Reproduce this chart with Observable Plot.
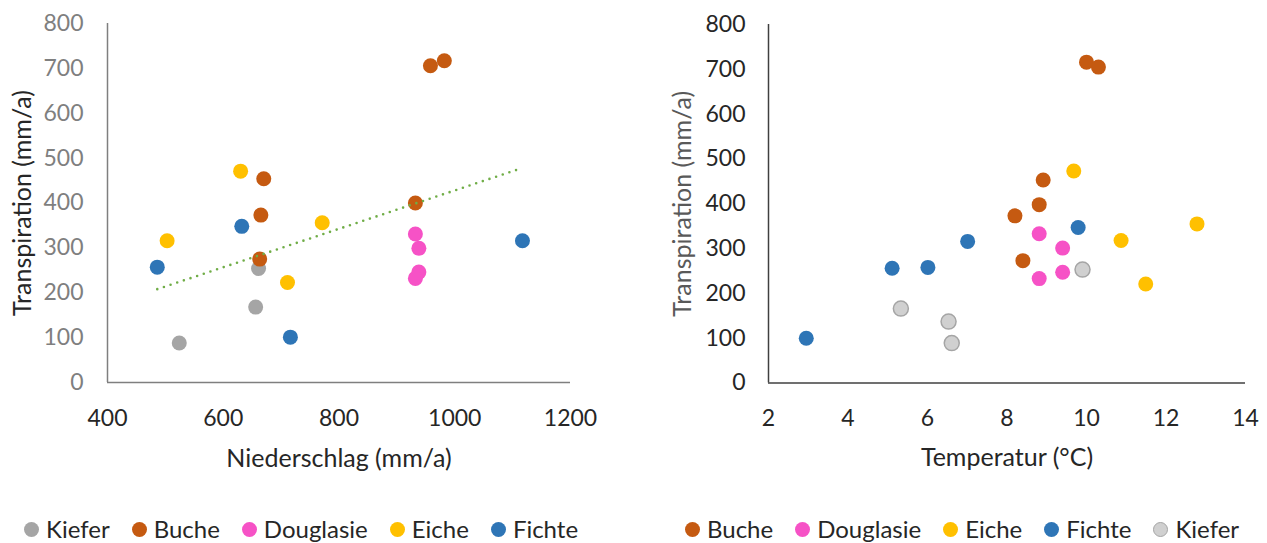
<!DOCTYPE html>
<html><head><meta charset="utf-8">
<script src="https://cdn.jsdelivr.net/npm/d3@7"></script>
<script src="https://cdn.jsdelivr.net/npm/@observablehq/plot@0.6"></script>
<style>
html,body{margin:0;padding:0;background:#fff}
body{width:1267px;height:543px;overflow:hidden;position:relative;font-family:Lato,sans-serif}
#left{position:absolute;left:0;top:0}
#right{position:absolute;left:633px;top:0}
.legend{position:absolute;top:515px;height:28px;line-height:28px;display:flex;align-items:center;font-size:24px;color:#262626;white-space:nowrap}
.item{display:flex;align-items:center;margin-right:22px}
.sw{width:15px;height:15px;border-radius:50%;margin-right:7px;box-sizing:border-box;flex:none}
</style></head>
<body>
<div id="left"></div><div id="right"></div>
<div class="legend" id="legL" style="left:24px"></div>
<div class="legend" id="legR" style="left:685px"></div>
<script>
// ---- shared ----
const yTicks = [0, 100, 200, 300, 400, 500, 600, 700, 800];
const leftXTicks = [400, 600, 800, 1000, 1200];
const rightXTicks = [2, 4, 6, 8, 10, 12, 14];
const speciesNames = ["Buche", "Douglasie", "Eiche", "Fichte", "Kiefer"];
const speciesColors = ["#C55A11", "#F652C6", "#FFC000", "#2E75B6", "#A5A5A5"];
const rightKieferFill = "#D0D0D0";
const leftLegendOrder = ["Kiefer", "Buche", "Douglasie", "Eiche", "Fichte"];
const rightLegendOrder = ["Buche", "Douglasie", "Eiche", "Fichte", "Kiefer"];

// ---- left chart: Niederschlag vs Transpiration ----
const leftSpecies = [
  "Kiefer","Kiefer","Kiefer",
  "Buche","Buche","Buche","Buche","Buche","Buche",
  "Douglasie","Douglasie","Douglasie","Douglasie",
  "Eiche","Eiche","Eiche","Eiche",
  "Fichte","Fichte","Fichte","Fichte"
];
const leftNiederschlag = [
  661, 656, 524,
  958, 982, 670, 665, 663, 932,
  932, 938, 938, 932,
  630, 771, 503, 711,
  632, 486, 716, 1117
];
const leftTranspiration = [
  254, 168, 88,
  706, 717, 454, 373, 275, 400,
  331, 299, 246, 232,
  471, 356, 316, 223,
  348, 257, 101, 316
];

// ---- right chart: Temperatur vs Transpiration ----
const rightSpecies = [
  "Buche","Buche","Buche","Buche","Buche","Buche",
  "Douglasie","Douglasie","Douglasie","Douglasie",
  "Eiche","Eiche","Eiche","Eiche",
  "Fichte","Fichte","Fichte","Fichte","Fichte",
  "Kiefer","Kiefer","Kiefer","Kiefer"
];
const rightTemperatur = [
  10.0, 10.3, 8.91, 8.81, 8.2, 8.4,
  8.81, 9.4, 9.4, 8.81,
  9.68, 12.78, 10.87, 11.49,
  9.79, 7.01, 5.11, 6.01, 2.95,
  9.9, 5.33, 6.53, 6.61
];
const rightTranspiration = [
  716, 705, 453, 398, 373, 273,
  333, 301, 247, 233,
  473, 355, 318, 221,
  347, 316, 256, 258, 100,
  253, 166, 137, 89
];

const leftData = leftSpecies.map((s, i) => ({species: s, x: leftNiederschlag[i], y: leftTranspiration[i]}));
const rightData = rightSpecies.map((s, i) => ({species: s, x: rightTemperatur[i], y: rightTranspiration[i]}));

const orderBy = (order) => (a, b) => order.indexOf(a.species) - order.indexOf(b.species);
leftData.sort(orderBy(leftLegendOrder));
rightData.sort(orderBy(rightLegendOrder));

// linear trendline through origin (computed from the data)
const slope = d3.sum(leftData, d => d.x * d.y) / d3.sum(leftData, d => d.x * d.x);
const trend = d3.extent(leftData, d => d.x).map(x => ({x, y: slope * x}));

const fmt = d3.format("d");

const leftPlot = Plot.plot({
  width: 633, height: 470,
  marginLeft: 107, marginRight: 63, marginTop: 23, marginBottom: 88,
  style: {fontFamily: "Lato, sans-serif", background: "white", overflow: "visible"},
  x: {domain: [400, 1200]},
  y: {domain: [0, 800]},
  color: {domain: speciesNames, range: speciesColors},
  marks: [
    Plot.axisY({ticks: yTicks, tickFormat: fmt, tickSize: 0, tickPadding: 24, fontSize: 23, fill: "#7F7F7F", label: null}),
    Plot.axisX({ticks: leftXTicks, tickFormat: fmt, tickSize: 0, tickPadding: 27, fontSize: 23, fill: "#262626", label: null}),
    Plot.ruleX([400], {stroke: "#7F7F7F", strokeWidth: 1.5}),
    Plot.ruleY([0], {stroke: "#7F7F7F", strokeWidth: 1.5}),
    Plot.text(["Transpiration (mm/a)"], {frameAnchor: "left", textAnchor: "middle", lineAnchor: "middle", dx: -85, rotate: -90, fontSize: 25, fill: "#262626"}),
    Plot.text(["Niederschlag (mm/a)"], {frameAnchor: "bottom", textAnchor: "middle", lineAnchor: "middle", dy: 76, fontSize: 25, fill: "#262626"}),
    Plot.dot(leftData, {x: "x", y: "y", fill: "species", r: 7.5}),
    Plot.line(trend, {x: "x", y: "y", stroke: "#70AD47", strokeWidth: 2.6, strokeDasharray: "0 7", strokeLinecap: "round"})
  ]
});
document.getElementById("left").appendChild(leftPlot);

const rightPlot = Plot.plot({
  width: 634, height: 470,
  marginLeft: 135, marginRight: 22, marginTop: 24, marginBottom: 87.5,
  style: {fontFamily: "Lato, sans-serif", background: "white", overflow: "visible"},
  x: {domain: [2, 14]},
  y: {domain: [0, 800]},
  color: {domain: speciesNames, range: speciesColors.slice(0, 4).concat([rightKieferFill])},
  marks: [
    Plot.axisY({ticks: yTicks, tickFormat: fmt, tickSize: 0, tickPadding: 23, fontSize: 23, fill: "#262626", label: null}),
    Plot.axisX({ticks: rightXTicks, tickFormat: fmt, tickSize: 0, tickPadding: 27, fontSize: 23, fill: "#262626", label: null}),
    Plot.ruleX([2], {stroke: "#404040", strokeWidth: 1.5}),
    Plot.ruleY([0], {stroke: "#404040", strokeWidth: 1.5}),
    Plot.text(["Transpiration (mm/a)"], {frameAnchor: "left", textAnchor: "middle", lineAnchor: "middle", dx: -86, rotate: -90, fontSize: 25, fill: "#595959"}),
    Plot.text(["Temperatur (°C)"], {frameAnchor: "bottom", textAnchor: "middle", lineAnchor: "middle", dy: 74.5, fontSize: 25, fill: "#262626"}),
    Plot.dot(rightData, {x: "x", y: "y", fill: "species", r: 7.5,
      stroke: d => d.species === "Kiefer" ? "#A5A5A5" : "none", strokeWidth: 1.5})
  ]
});
document.getElementById("right").appendChild(rightPlot);

// ---- legends ----
function buildLegend(el, order, kieferOutlined) {
  for (const s of order) {
    const item = document.createElement("div");
    item.className = "item";
    const sw = document.createElement("span");
    sw.className = "sw";
    if (s === "Kiefer" && kieferOutlined) {
      sw.style.background = rightKieferFill;
      sw.style.border = "1.5px solid #A5A5A5";
    } else {
      sw.style.background = speciesColors[speciesNames.indexOf(s)];
    }
    const t = document.createElement("span");
    t.textContent = s;
    item.appendChild(sw); item.appendChild(t);
    el.appendChild(item);
  }
}
buildLegend(document.getElementById("legL"), leftLegendOrder, false);
buildLegend(document.getElementById("legR"), rightLegendOrder, true);
</script>
</body></html>
